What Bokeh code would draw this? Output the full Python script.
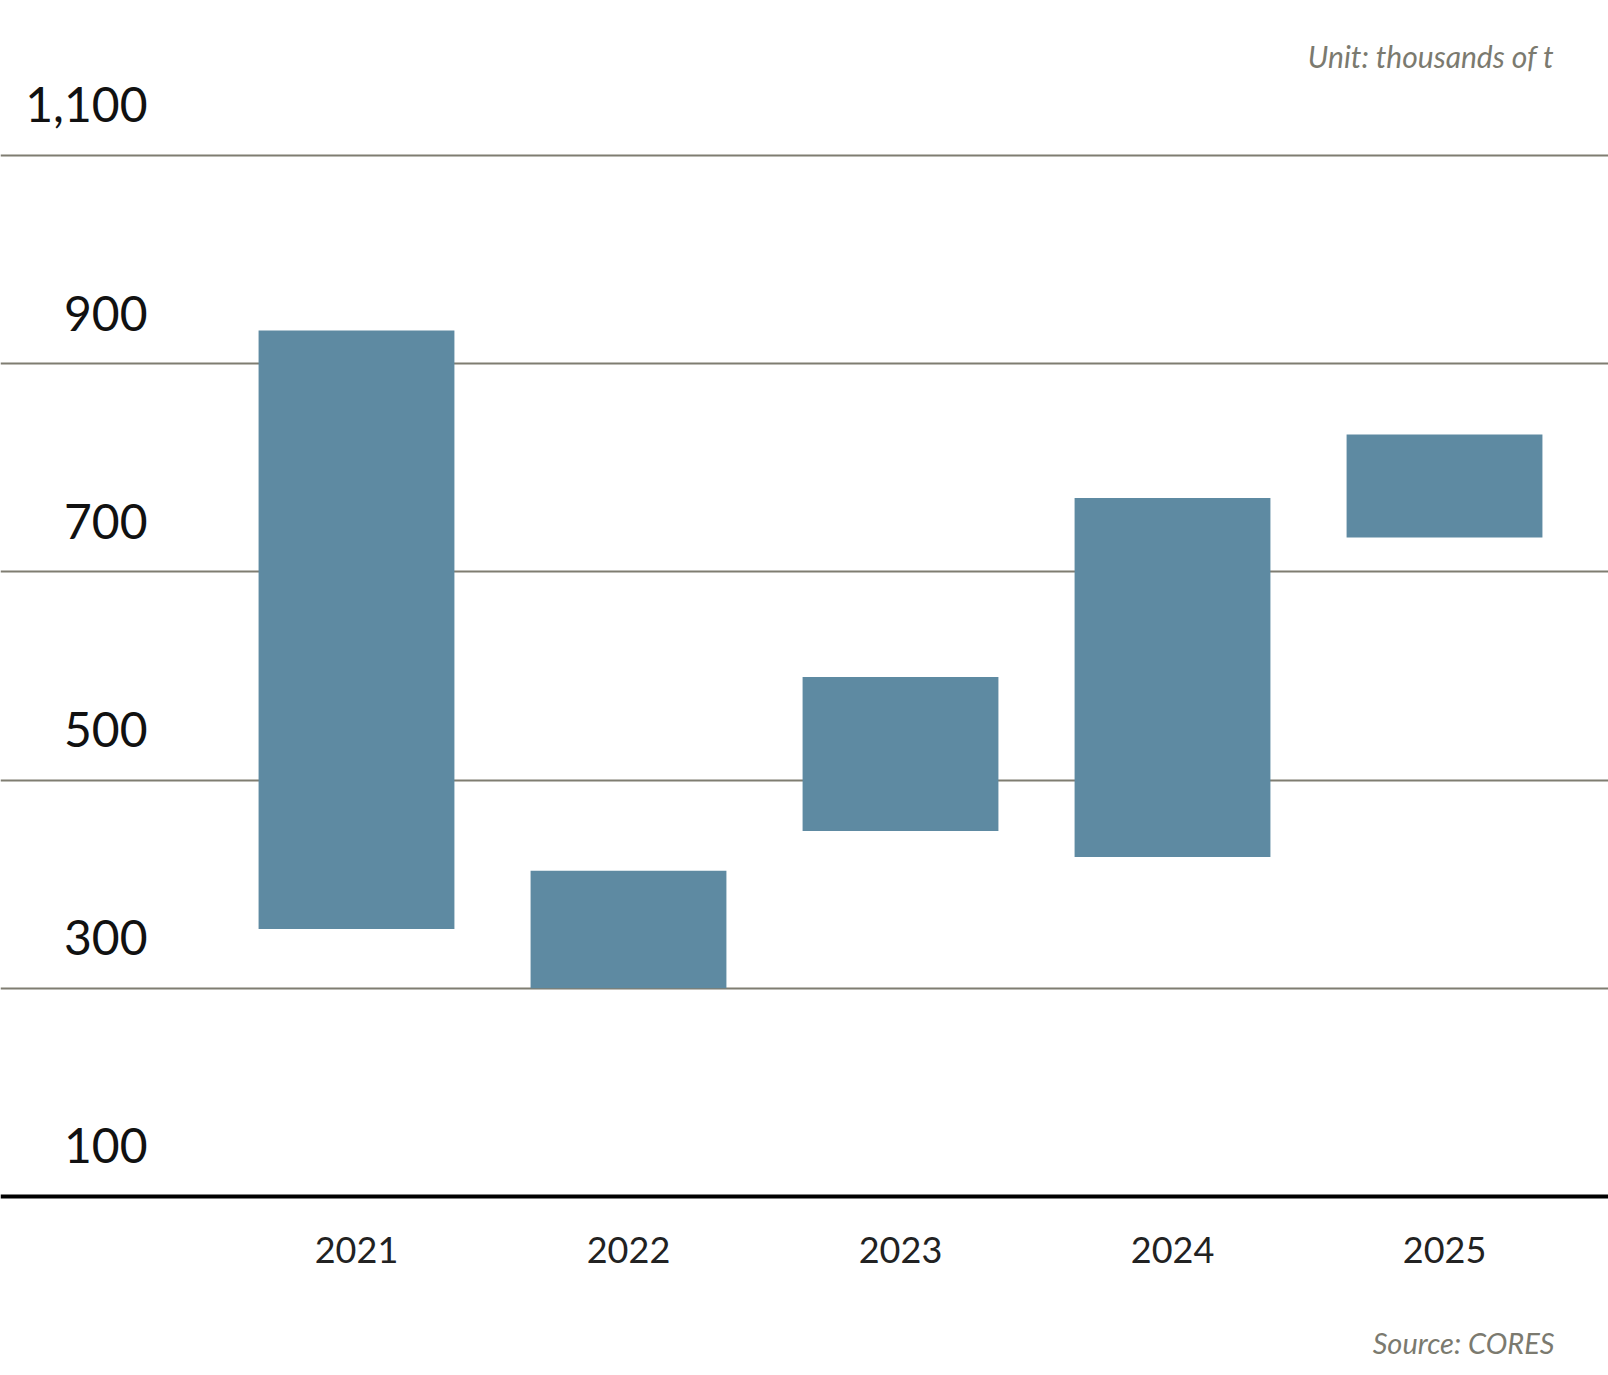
from bokeh.plotting import figure
from bokeh.models import ColumnDataSource, FixedTicker, LabelSet, Label, Range1d, Span
from bokeh.core.properties import value
from bokeh.embed import file_html
from bokeh.resources import INLINE

# ---- data ----
years = ["2021", "2022", "2023", "2024", "2025"]
low = [357, 300, 451, 426, 733]
high = [932, 413, 599, 771, 832]
y_ticks = [100, 300, 500, 700, 900, 1100]
y_tick_labels = ["100", "300", "500", "700", "900", "1,100"]
grid_ticks = [300, 500, 700, 900, 1100]
baseline_value = 100
unit_text = "Unit: thousands of t"
source_text = "Source: CORES"

BAR = "#5e8aa2"
GRID = "#7f7d71"
NOTE = "#7b7a6f"
FONT = "Lato"

W, H = 1608, 1375
pos = list(range(len(years)))
src = ColumnDataSource(dict(x=pos, bottom=low, top=high))
xlab_src = ColumnDataSource(dict(x=pos, y=[baseline_value] * len(pos), text=years))

p = figure(width=W, height=H, output_backend="svg", toolbar_location=None,
           x_range=Range1d(-1.3088, 4.6029), y_range=Range1d(-72.0, 1248.9),
           x_axis_location=None, y_axis_location=None,
           min_border_left=0, min_border_right=0,
           min_border_top=0, min_border_bottom=0)
p.outline_line_color = None
p.background_fill_color = "white"
p.border_fill_color = "white"

p.xgrid.visible = False
p.ygrid.ticker = FixedTicker(ticks=grid_ticks)
p.ygrid.grid_line_color = GRID
p.ygrid.grid_line_width = 2

p.vbar(x="x", bottom="bottom", top="top", width=0.72, source=src,
       fill_color=BAR, line_color=None)

p.add_layout(Span(location=baseline_value, dimension="width",
                  line_color="black", line_width=4))

# category labels under the baseline
p.text(x="x", y="y", text="text", source=xlab_src, y_offset=54,
       text_align="center", text_baseline="alphabetic",
       text_font=value(FONT), text_font_size=value("36px"), text_color="#222222")

# value labels sitting on the grid lines
lab_src = ColumnDataSource(dict(lx=[147] * len(y_ticks), y=y_ticks, text=y_tick_labels))
p.add_layout(LabelSet(x="lx", y="y", text="text", source=lab_src, x_units="screen",
                      y_offset=33, text_align="right", text_baseline="alphabetic",
                      text_font=value(FONT), text_font_size=value("48px"),
                      text_color="#111111"))

p.add_layout(Label(x=1554, y=H - 55, x_units="screen", y_units="screen", text=unit_text,
                   text_align="right", text_baseline="alphabetic", text_font=FONT,
                   text_font_style="italic", text_font_size="30px", text_color=NOTE))
p.add_layout(Label(x=1554, y=H - 1342, x_units="screen", y_units="screen", text=source_text,
                   text_align="right", text_baseline="alphabetic", text_font=FONT,
                   text_font_style="italic", text_font_size="29px", text_color=NOTE))

open("out.html", "w").write(file_html(p, INLINE))
